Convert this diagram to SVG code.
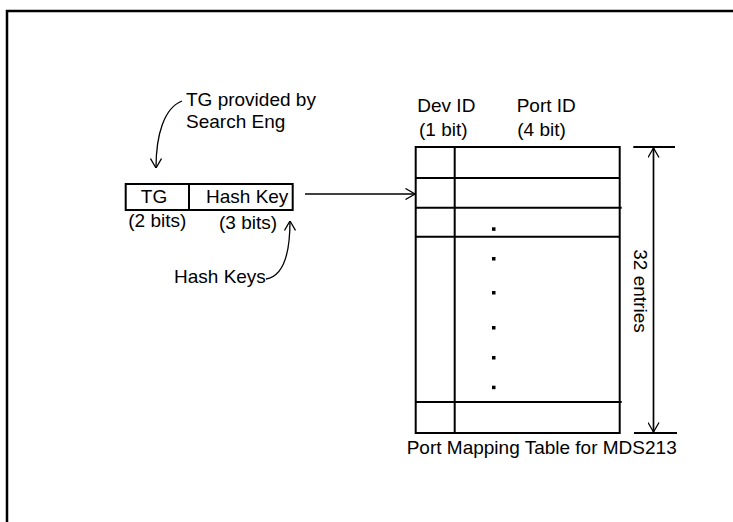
<svg xmlns="http://www.w3.org/2000/svg" width="733" height="522" viewBox="0 0 733 522">
<style>
text{font-family:"Liberation Sans",Arial,sans-serif;font-size:19px;fill:#000}
.thick{stroke:#000;stroke-width:2;fill:none}
.thin{stroke:#000;stroke-width:1.3;fill:none}
.dot{fill:#000}
</style>
<defs>
<marker id="ah" viewBox="0 0 10 12" refX="10" refY="6" markerWidth="10" markerHeight="12" orient="auto-start-reverse" markerUnits="userSpaceOnUse">
<path d="M0.5,0.5 L10,6 L0.5,11.5" fill="none" stroke="#000" stroke-width="1.3"/>
</marker>
</defs>
<rect width="733" height="522" fill="#fff"/>
<g id="frame">
<path d="M7,522 V11 H733" stroke="#000" stroke-width="2.5" fill="none"/>
</g>
<g id="tg-note">
<text x="186" y="106">TG provided by</text>
<text x="186" y="127.7">Search Eng</text>
</g>
<g id="key-field">
<rect x="125.7" y="184" width="167" height="26" class="thick"/>
<line x1="189" y1="184" x2="189" y2="210" class="thick"/>
<text x="154" y="202.7" text-anchor="middle">TG</text>
<text x="206" y="202.7">Hash Key</text>
<text x="128.3" y="226.5">(2 bits)</text>
<text x="219" y="229">(3 bits)</text>
</g>
<g id="hash-keys-note">
<text x="174" y="283.3">Hash Keys</text>
</g>
<g id="port-table">
<text x="417.3" y="111.7">Dev ID</text>
<text x="419" y="136">(1 bit)</text>
<text x="516.7" y="111.7">Port ID</text>
<text x="517.3" y="136">(4 bit)</text>
<rect x="415.7" y="147" width="204" height="286" class="thick"/>
<line x1="454.7" y1="147" x2="454.7" y2="433" class="thick"/>
<line x1="415.7" y1="178" x2="619.7" y2="178" class="thick"/>
<line x1="415.7" y1="207.7" x2="621.7" y2="207.7" class="thick"/>
<line x1="415.7" y1="236.7" x2="619.7" y2="236.7" class="thick"/>
<line x1="415.7" y1="402" x2="621.7" y2="402" class="thick"/>
<rect class="dot" x="492" y="227.3" width="3.5" height="3.5"/>
<rect class="dot" x="492" y="257" width="3.5" height="3.5"/>
<rect class="dot" x="492" y="291" width="3.5" height="3.5"/>
<rect class="dot" x="492" y="326" width="3.5" height="3.5"/>
<rect class="dot" x="492" y="356" width="3.5" height="3.5"/>
<rect class="dot" x="492" y="385.7" width="3.5" height="3.5"/>
<text x="406.7" y="454">Port Mapping Table for MDS213</text>
</g>
<g id="dimension">
<line x1="633.3" y1="147" x2="675" y2="147" class="thick"/>
<line x1="634" y1="433" x2="677" y2="433" class="thick"/>
<text transform="translate(633.5,249.3) rotate(90)">32 entries</text>
</g>
<g id="connectors">
<path d="M182,101 C164,108 156,135 156,168" class="thin" marker-end="url(#ah)"/>
<path d="M266,279 C285,276 290,250 290,221" class="thin" marker-end="url(#ah)"/>
<line x1="305" y1="194" x2="415" y2="194" class="thin" marker-end="url(#ah)"/>
<line x1="653.5" y1="148" x2="653.5" y2="432" stroke="#000" stroke-width="1.7" marker-start="url(#ah)" marker-end="url(#ah)"/>
</g>
</svg>
